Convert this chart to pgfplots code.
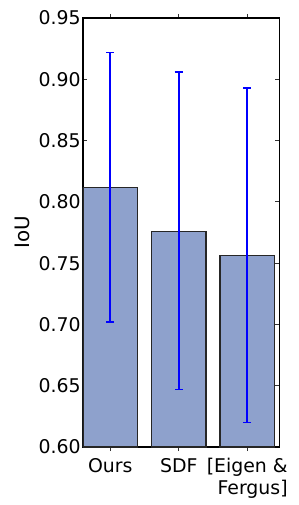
\documentclass[border=0pt]{standalone}
\usepackage{pgfplots}
\pgfplotsset{compat=1.18}
\usepackage{fontspec}
\setmainfont{DejaVu Sans}
\definecolor{barfill}{RGB}{142,161,204}
\definecolor{errblue}{RGB}{0,0,255}
\begin{document}
\fontsize{19}{22}\selectfont
\begin{tikzpicture}
\begin{axis}[
  name=ax,
  scale only axis,
  width=197bp, height=430bp,
  xmin=-0.4, xmax=2.47,
  ymin=0.60, ymax=0.95,
  ytick={0.60,0.65,0.70,0.75,0.80,0.85,0.90,0.95},
  yticklabel style={/pgf/number format/fixed,/pgf/number format/fixed zerofill,/pgf/number format/precision=2, inner sep=2bp},
  /pgf/number format/assume math mode=true,
  xtick={0,1,2},
  xticklabels={\strut Ours,\strut SDF,\strut{}[Eigen \&\\Fergus]},
  xticklabel style={align=right},
  ylabel={IoU},
  ylabel style={font=\fontsize{20}{22}\selectfont},
  tick align=inside,
  major tick length=4bp,
  tick style={black!80, line width=0.9bp},
  axis line style={line width=1.4bp},
  ybar, bar width=0.8,
  enlargelimits=false,
]
\addplot[fill=barfill, draw=black!85, line width=1.5bp,
  error bars/.cd, y dir=both, y explicit,
  error bar style={draw=errblue, color=errblue, line width=1.8bp},
  error mark options={draw=errblue, color=errblue, rotate=90, mark size=4bp, line width=1.6bp}]
coordinates {
  (0,0.8116) += (0,0.1102) -= (0,0.1096)
  (1,0.7760) += (0,0.1298) -= (0,0.1290)
  (2,0.7563) += (0,0.1365) -= (0,0.1362)
};
\end{axis}
\path ([shift={(-83bp,-57bp)}]ax.south west) rectangle ([shift={(19bp,18bp)}]ax.north east);
\end{tikzpicture}
\end{document}
